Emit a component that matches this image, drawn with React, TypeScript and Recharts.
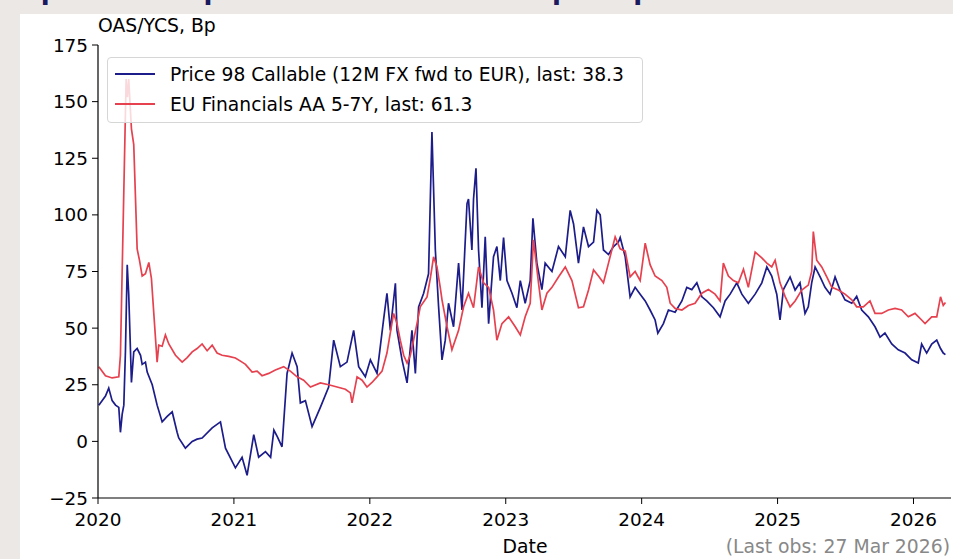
import React from "react";
import { LineChart, Line, XAxis, YAxis } from "recharts";

// Observation dates as decimal years
const callableDates = [
  2020.006, 2020.055, 2020.079, 2020.104, 2020.129, 2020.153, 2020.165, 2020.178, 2020.19, 2020.202,
  2020.215, 2020.226, 2020.239, 2020.246, 2020.263, 2020.288, 2020.313, 2020.325, 2020.349, 2020.362,
  2020.399, 2020.435, 2020.472, 2020.509, 2020.546, 2020.582, 2020.594, 2020.643, 2020.693, 2020.729,
  2020.766, 2020.84, 2020.901, 2020.938, 2021.011, 2021.06, 2021.097, 2021.146, 2021.182, 2021.232,
  2021.27, 2021.294, 2021.32, 2021.354, 2021.391, 2021.428, 2021.465, 2021.489, 2021.526, 2021.575,
  2021.636, 2021.697, 2021.734, 2021.783, 2021.832, 2021.881, 2021.918, 2021.967, 2022.004, 2022.053,
  2022.101, 2022.126, 2022.151, 2022.188, 2022.2, 2022.237, 2022.274, 2022.31, 2022.335, 2022.359,
  2022.396, 2022.432, 2022.457, 2022.482, 2022.506, 2022.531, 2022.555, 2022.579, 2022.616, 2022.653,
  2022.678, 2022.715, 2022.726, 2022.751, 2022.763, 2022.781, 2022.8, 2022.825, 2022.849, 2022.874,
  2022.91, 2022.935, 2022.96, 2022.984, 2023.009, 2023.046, 2023.082, 2023.107, 2023.143, 2023.18,
  2023.2, 2023.229, 2023.266, 2023.29, 2023.34, 2023.388, 2023.438, 2023.474, 2023.499, 2023.535,
  2023.572, 2023.609, 2023.646, 2023.671, 2023.695, 2023.719, 2023.756, 2023.793, 2023.829, 2023.842,
  2023.879, 2023.915, 2023.952, 2023.989, 2024.026, 2024.062, 2024.099, 2024.119, 2024.16, 2024.197,
  2024.246, 2024.296, 2024.332, 2024.369, 2024.406, 2024.443, 2024.479, 2024.528, 2024.577, 2024.614,
  2024.651, 2024.7, 2024.737, 2024.785, 2024.835, 2024.884, 2024.921, 2024.957, 2024.994, 2025.018,
  2025.043, 2025.092, 2025.129, 2025.165, 2025.202, 2025.226, 2025.251, 2025.276, 2025.313, 2025.349,
  2025.386, 2025.423, 2025.46, 2025.496, 2025.546, 2025.582, 2025.619, 2025.668, 2025.717, 2025.754,
  2025.79, 2025.84, 2025.888, 2025.938, 2025.987, 2026.035, 2026.06, 2026.097, 2026.134, 2026.171,
  2026.199, 2026.219, 2026.235,
];

// Price 98 Callable (12M FX fwd to EUR), OAS in bp
const callableValues = [
  16, 20, 23.5, 18, 16, 15, 4, 12, 16, 40,
  78, 65, 40, 26, 39.5, 41, 38, 34, 35, 30.6,
  25, 16, 8.6, 11, 13, 4, 1.5, -3, 0, 1,
  1.5, 6, 8.6, -3, -11.7, -7, -15, 3, -7, -4.5,
  -7, 5, 2, -2.4, 30, 39, 33, 17, 18, 6.5,
  15, 24, 44.7, 33, 35, 49, 33, 28.5, 36, 30,
  53.6, 65.4, 49, 69.8, 49, 36, 25.8, 49, 30, 59.4,
  65.4, 74, 136.6, 84.5, 59.4, 36, 44.7, 61, 50.6, 78.7,
  58, 105, 107, 84.5, 107, 120.6, 84.5, 59, 90.3, 52,
  81.5, 86, 71, 90, 71, 65.4, 59, 71, 61, 71,
  98.5, 78.7, 67, 78.7, 75, 86, 81.5, 102, 96, 78.7,
  94.7, 86, 88, 102, 100, 84.5, 82.5, 86, 88, 90,
  81.5, 63.8, 68, 65, 62, 58, 53.6, 47.8, 52, 58,
  57, 62, 68, 67, 70, 63.8, 62, 59, 55, 62,
  65, 70, 65, 61, 65, 70, 77, 73, 65, 53.6,
  67, 72.6, 66.8, 70, 56.5, 59.4, 70, 77, 72.6, 68,
  65, 72.6, 66.8, 62.5, 61, 64, 58, 55, 50.6, 46,
  47.8, 43, 40.4, 39, 36, 34.6, 43, 39, 43, 44.7,
  41, 39, 38.3,
];

const financialsDates = [
  2020.006, 2020.055, 2020.104, 2020.153, 2020.165, 2020.207, 2020.217, 2020.226, 2020.246, 2020.263,
  2020.288, 2020.305, 2020.325, 2020.349, 2020.374, 2020.393, 2020.41, 2020.435, 2020.447, 2020.472,
  2020.496, 2020.521, 2020.57, 2020.619, 2020.656, 2020.693, 2020.729, 2020.766, 2020.803, 2020.84,
  2020.876, 2020.913, 2020.962, 2021.011, 2021.06, 2021.085, 2021.134, 2021.171, 2021.207, 2021.256,
  2021.305, 2021.366, 2021.415, 2021.465, 2021.513, 2021.563, 2021.636, 2021.697, 2021.759, 2021.82,
  2021.857, 2021.869, 2021.906, 2021.943, 2021.979, 2022.016, 2022.053, 2022.09, 2022.126, 2022.151,
  2022.175, 2022.2, 2022.224, 2022.249, 2022.274, 2022.298, 2022.322, 2022.347, 2022.371, 2022.421,
  2022.445, 2022.469, 2022.494, 2022.518, 2022.531, 2022.568, 2022.604, 2022.653, 2022.69, 2022.726,
  2022.763, 2022.8, 2022.837, 2022.874, 2022.91, 2022.935, 2022.972, 2023.021, 2023.07, 2023.107,
  2023.143, 2023.18, 2023.204, 2023.241, 2023.266, 2023.303, 2023.34, 2023.388, 2023.438, 2023.487,
  2023.535, 2023.572, 2023.609, 2023.646, 2023.682, 2023.719, 2023.756, 2023.805, 2023.842, 2023.879,
  2023.915, 2023.952, 2023.989, 2024.026, 2024.062, 2024.099, 2024.149, 2024.185, 2024.21, 2024.246,
  2024.296, 2024.344, 2024.393, 2024.443, 2024.491, 2024.54, 2024.577, 2024.601, 2024.638, 2024.675,
  2024.712, 2024.749, 2024.785, 2024.835, 2024.884, 2024.921, 2024.957, 2024.982, 2025.018, 2025.055,
  2025.092, 2025.129, 2025.178, 2025.226, 2025.251, 2025.263, 2025.288, 2025.325, 2025.362, 2025.399,
  2025.447, 2025.496, 2025.546, 2025.582, 2025.631, 2025.68, 2025.717, 2025.766, 2025.815, 2025.864,
  2025.913, 2025.962, 2026.011, 2026.06, 2026.085, 2026.134, 2026.171, 2026.199, 2026.219, 2026.235,
];

// EU Financials AA 5-7Y, spread in bp
const financialsValues = [
  33, 29, 28, 28.5, 38, 160, 152, 160, 138, 131,
  85, 80, 73, 74, 79, 72, 57, 35, 42.5, 42,
  47, 43, 38, 35, 37, 39.5, 41, 43, 40, 42.5,
  39, 38, 37.5, 36.8, 35, 34, 30.6, 31, 29, 30,
  31.5, 33, 31, 28.5, 27, 24, 25.8, 25, 24, 23,
  21.4, 17, 28.5, 27, 24, 26, 28.5, 31, 39, 48,
  56.5, 52, 44.7, 38, 34.6, 38, 44.7, 52, 59.4, 63.8,
  72, 81.5, 77, 68, 62.5, 50.6, 40.4, 49, 59.4, 65.4,
  59, 77, 70, 68, 58, 44.7, 52, 55, 50.6, 47,
  55, 61, 89, 70, 58, 65.4, 68, 72.6, 77, 71,
  59, 59.4, 66.8, 75.7, 73, 70, 78.7, 90.3, 85, 84,
  72.6, 75, 71, 87.5, 78, 73, 71, 68, 61, 58.7,
  58, 60, 61, 65.4, 67, 65, 62, 78.7, 73, 71,
  70, 76, 68, 83.6, 81, 78.7, 77, 80, 70, 64,
  59.4, 62, 66.8, 69, 75, 92.6, 80, 77, 72.6, 68,
  66.8, 65, 62.5, 59.4, 59.4, 62, 56.5, 56.5, 58, 58.7,
  58, 55, 56.5, 53.6, 52, 55, 55, 63.8, 60, 61.3,
];

const yearTicks = [2020, 2021, 2022, 2023, 2024, 2025, 2026];
const spreadTicks = [-25, 0, 25, 50, 75, 100, 125, 150, 175];

const seriesNames = [
  "Price 98 Callable (12M FX fwd to EUR), last: 38.3",
  "EU Financials AA 5-7Y, last: 61.3",
];

const BLUE = "#1c1c8a";
const RED = "#e6414f";
const FONT = "'DejaVu Sans', sans-serif";

const callableData = callableDates.map((t, i) => ({ t, v: callableValues[i] }));
const financialsData = financialsDates.map((t, i) => ({ t, v: financialsValues[i] }));

const fmtSpread = (v: number) => (v < 0 ? `\u2212${Math.abs(v)}` : `${v}`);

export default function App() {
  const tickStyle = { fill: "#000", fontSize: 18.4, fontFamily: FONT };
  return (
    <div
      style={{
        position: "absolute",
        left: 0,
        top: 0,
        width: 953,
        height: 559,
        overflow: "hidden",
        background: "#ece8e6",
        fontFamily: FONT,
      }}
    >
      <div
        style={{
          position: "absolute",
          left: 22,
          top: -25,
          fontSize: 26,
          fontWeight: 700,
          color: "#1a1a5e",
          whiteSpace: "nowrap",
        }}
      >
        Spread of top-rated callable vs European peers
      </div>
      <div
        style={{
          position: "absolute",
          left: 20,
          top: 14,
          width: 933,
          height: 545,
          background: "#fff",
        }}
      />
      <div
        style={{
          position: "absolute",
          left: 98,
          top: 15,
          fontSize: 18.8,
          color: "#000",
          whiteSpace: "nowrap",
        }}
      >
        OAS/YCS, Bp
      </div>
      <div style={{ position: "absolute", left: 0, top: 0 }}>
        <LineChart
          width={953}
          height={559}
          margin={{ top: 45, right: 2, bottom: 0, left: 0 }}
        >
          <XAxis
            xAxisId="b"
            type="number"
            dataKey="t"
            domain={[2020, 2026.276]}
            ticks={yearTicks}
            allowDataOverflow
            height={61}
            tick={tickStyle}
            tickSize={6}
            tickMargin={9}
            axisLine={{ stroke: "#000", strokeWidth: 1.2 }}
            tickLine={{ stroke: "#000", strokeWidth: 1 }}
          />
          <XAxis
            xAxisId="top"
            orientation="top"
            type="number"
            dataKey="t"
            domain={[2020, 2026.276]}
            height={0}
            tick={false}
            tickLine={false}
            axisLine={{ stroke: "#000", strokeWidth: 1.2 }}
          />
          <YAxis
            yAxisId="l"
            type="number"
            domain={[-25, 175]}
            ticks={spreadTicks}
            allowDataOverflow
            width={98}
            tick={tickStyle}
            tickFormatter={fmtSpread}
            tickSize={6}
            tickMargin={4}
            axisLine={{ stroke: "#000", strokeWidth: 1.2 }}
            tickLine={{ stroke: "#000", strokeWidth: 1 }}
          />
          <YAxis
            yAxisId="r"
            orientation="right"
            type="number"
            domain={[-25, 175]}
            width={0}
            tick={false}
            tickLine={false}
            axisLine={{ stroke: "#000", strokeWidth: 1.2 }}
          />
          <Line
            xAxisId="b"
            yAxisId="l"
            data={callableData}
            dataKey="v"
            type="linear"
            stroke={BLUE}
            strokeWidth={1.7}
            dot={false}
            isAnimationActive={false}
          />
          <Line
            xAxisId="b"
            yAxisId="l"
            data={financialsData}
            dataKey="v"
            type="linear"
            stroke={RED}
            strokeWidth={1.7}
            dot={false}
            isAnimationActive={false}
          />
        </LineChart>
      </div>
      <div
        style={{
          position: "absolute",
          left: 107,
          top: 57,
          width: 534,
          height: 64,
          background: "rgba(255,255,255,0.8)",
          border: "1px solid #d6d6d6",
          borderRadius: 4,
        }}
      >
        {seriesNames.map((name, i) => (
          <div
            key={name}
            style={{
              position: "absolute",
              left: 0,
              top: 4 + i * 30,
              height: 24,
              display: "flex",
              alignItems: "center",
              whiteSpace: "nowrap",
            }}
          >
            <div
              style={{
                marginLeft: 7,
                width: 40,
                height: 2,
                background: i === 0 ? BLUE : RED,
              }}
            />
            <span style={{ marginLeft: 15, fontSize: 18.7, color: "#000" }}>{name}</span>
          </div>
        ))}
      </div>
      <div
        style={{
          position: "absolute",
          left: 525,
          top: 536,
          transform: "translateX(-50%)",
          fontSize: 18.8,
          color: "#000",
        }}
      >
        Date
      </div>
      <div
        style={{
          position: "absolute",
          right: 3,
          top: 536,
          fontSize: 18.8,
          color: "#888",
          whiteSpace: "nowrap",
        }}
      >
        (Last obs: 27 Mar 2026)
      </div>
    </div>
  );
}
